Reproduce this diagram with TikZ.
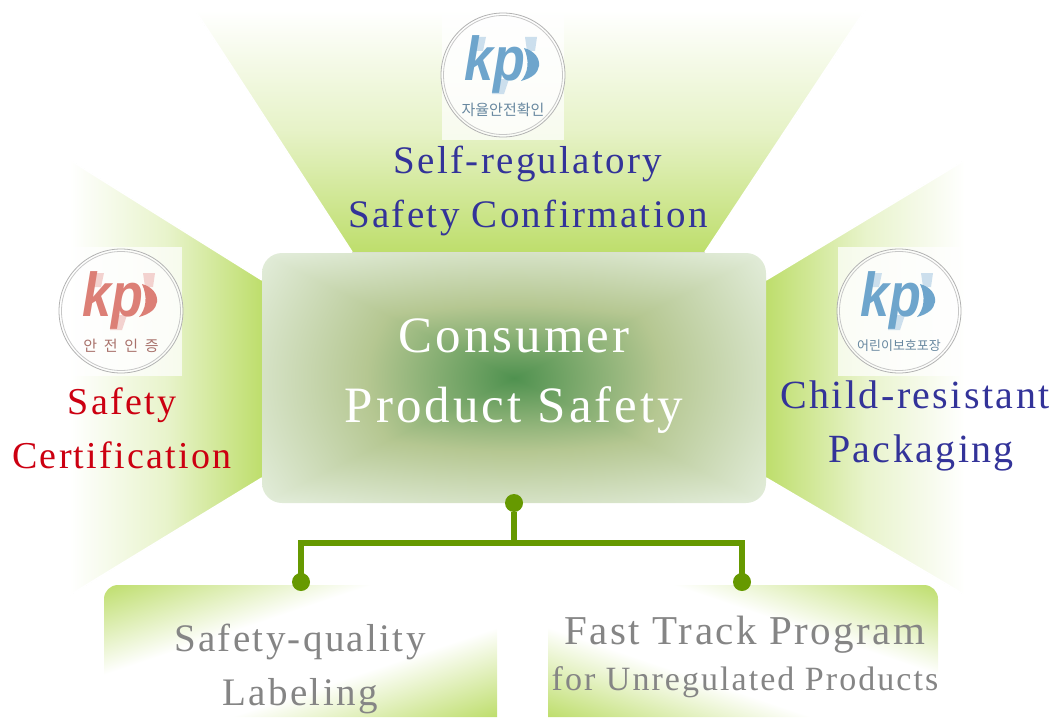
\documentclass[tikz,border=0pt]{standalone}
\usepackage{fontspec}
\setmainfont[LetterSpace=6]{Liberation Serif}
\newfontfamily\cjk{Noto Sans CJK KR}
\newfontfamily\logofont{Liberation Sans}
\usetikzlibrary{shadings}
\definecolor{lime}{HTML}{BEDE6C}
\definecolor{stem}{HTML}{669900}
\definecolor{navy}{HTML}{333399}
\definecolor{crim}{HTML}{CC0011}
\definecolor{greytext}{HTML}{858585}
\definecolor{skyb}{HTML}{6EA5CC}
\definecolor{rosy}{HTML}{DC7F76}
% centre box: soft rectangular gradient (the path box is the central 25..75 of the shading)
\pgfdeclarefunctionalshading{centrebox}{\pgfpoint{0bp}{0bp}}{\pgfpoint{100bp}{100bp}}{}{
  50 sub 25 div abs exch 50 sub 25 div abs
  2 copy dup mul exch dup mul add sqrt 1.414 div 0.5 mul
  3 1 roll 2 copy lt {exch} if pop 0.5 mul add
  dup 0.5 lt
  { 0.5 div dup 0.40 mul 0.31 add exch dup 0.21 mul 0.57 add exch 0.26 mul 0.31 add }
  { 0.5 sub 0.5 div dup 0.18 mul 0.71 add exch dup 0.15 mul 0.78 add exch 0.29 mul 0.57 add }
  ifelse
}
% lime corners top-left and bottom-right
\pgfdeclarefunctionalshading{cornersa}{\pgfpoint{0bp}{0bp}}{\pgfpoint{100bp}{100bp}}{}{
  sub abs 50 div 0.32 sub 0.68 div dup 0 lt {pop 0} if
  dup 0.255 mul 1 exch sub exch
  dup 0.13 mul 1 exch sub exch
  0.576 mul 1 exch sub
}
% lime corners top-right and bottom-left
\pgfdeclarefunctionalshading{cornersb}{\pgfpoint{0bp}{0bp}}{\pgfpoint{100bp}{100bp}}{}{
  add 100 sub abs 50 div 0.32 sub 0.68 div dup 0 lt {pop 0} if
  dup 0.255 mul 1 exch sub exch
  dup 0.13 mul 1 exch sub exch
  0.576 mul 1 exch sub
}
\tikzset{
  x=1pt,y=-1pt,
  bigtext/.style={font=\fontsize{51}{70}\selectfont,align=center,white,inner sep=0pt},
  sidetext/.style={font=\fontsize{39}{54}\selectfont,align=center,inner sep=0pt},
  lowtext/.style={font=\fontsize{39}{54}\selectfont,align=center,greytext,inner sep=0pt},
  dot/.style={circle,fill=stem,draw=none,minimum width=18pt,minimum height=18pt,inner sep=0pt},
  link/.style={stem,line width=6pt,line cap=butt,line join=miter},
  ringa/.style={draw=black!30,line width=.8pt,fill=white,fill opacity=.6},
  ringb/.style={draw=black!22,line width=.8pt},
  mask/.style={white,line width=1.6pt},
}
% centre x, centre y, colour, korean, size
\newcommand{\kplogo}[5]{%
  \fill[white,opacity=.72] (#1-61,#2-64) rectangle (#1+61,#2+65);
  \draw[ringa] (#1,#2) circle[radius=62];
  \draw[ringb] (#1,#2) circle[radius=59.5];
  \fill[#3!35] (#1-28,#2-38) -- (#1-17,#2-38) -- (#1-20,#2-24) -- (#1-31,#2-24) -- cycle;
  \fill[#3!35] (#1+22,#2-38) -- (#1+34,#2-38) -- (#1+32,#2-24) -- (#1+24,#2-24) -- cycle;
  \fill[#3!35] (#1-8,#2+4) -- (#1+6,#2+4) -- (#1+1,#2+19) -- (#1-11,#2+19) -- cycle;
  \node[inner sep=0pt,#3,xscale=.84] at (#1-8,#2-11) {\logofont\addfontfeature{LetterSpace=0}\fontsize{62}{62}\selectfont\bfseries\itshape kp};
  \fill[#3] (#1+21,#2-27) .. controls (#1+32,#2-24) and (#1+37,#2-16) .. (#1+36,#2-9) .. controls (#1+35,#2-2) and (#1+29,#2+3) .. (#1+18,#2+6) .. controls (#1+25,#2-2) and (#1+27,#2-14) .. (#1+21,#2-27) -- cycle;
  \node[inner sep=0pt,#3!70!black!85] at (#1,#2+35) {\cjk\addfontfeature{LetterSpace=0}\fontsize{#5}{#5}\selectfont #4};
}
\begin{document}
\begin{tikzpicture}
\useasboundingbox (0,0) rectangle (1056,717);
% beams
\fill[top color=white,bottom color=lime,middle color=lime!38] (195,10) -- (865,10) -- (705,252) -- (352,252) -- cycle;
\draw[mask] (352,252) -- (195,10) -- (865,10) -- (705,252);
\fill[left color=white,right color=lime,middle color=lime!35] (70,160) -- (262,280) -- (262,478) -- (70,595) -- cycle;
\draw[mask] (262,280) -- (70,160) -- (70,595) -- (262,478);
\fill[left color=lime,right color=white,middle color=lime!35] (766,280) -- (965,160) -- (965,595) -- (766,478) -- cycle;
\draw[mask] (766,280) -- (965,160) -- (965,595) -- (766,478);
% centre box
\path[shading=centrebox,rounded corners=20pt] (262,253) rectangle (766,503);
% lower boxes
\path[shading=cornersa,rounded corners=14pt] (104,717) -- (104,585) -- (497,585) [sharp corners] -- (497,717) -- cycle;
\path[shading=cornersb] (548,717) -- (548,585) [rounded corners=14pt] -- (938,585) -- (938,717) [sharp corners] -- cycle;
% logos
\kplogo{503}{75}{skyb}{자율안전확인}{15}
\kplogo{121}{311}{rosy}{안\ \ 전\ \ 인\ \ 증}{15}
\kplogo{899}{311}{skyb}{어린이보호포장}{13}
% texts
\node[bigtext] (centre) at (514,376) {Consumer\\Product Safety};
\node[sidetext,navy] (selfreg) at (528,191) {Self-regulatory\\Safety Confirmation};
\node[sidetext,crim,font=\fontsize{38}{54}\selectfont] (cert) at (122,428) {Safety\hspace{12pt}\\Certification};
\node[sidetext,navy,font=\fontsize{40}{54}\selectfont] (child) at (915,426) {Child-resistant\\\hspace{12pt}Packaging};
\node[lowtext] (label) at (300,669) {Safety-quality\\Labeling};
\node[inner sep=0pt,greytext,font=\fontsize{41}{41}\selectfont] (fast) at (745,635) {Fast Track Program};
\node[inner sep=0pt,greytext,font=\fontsize{34}{34}\selectfont] (unreg) at (745,682) {for Unregulated Products};
% connector
\node[dot] (src) at (514,503) {};
\node[dot] (lefte) at (301,582) {};
\node[dot] (righte) at (742,582) {};
\coordinate (junction) at (514,543);
\draw[link] (src) -- (junction);
\draw[link] (lefte.center) |- (junction);
\draw[link] (righte.center) |- (junction);
\end{tikzpicture}
\end{document}
